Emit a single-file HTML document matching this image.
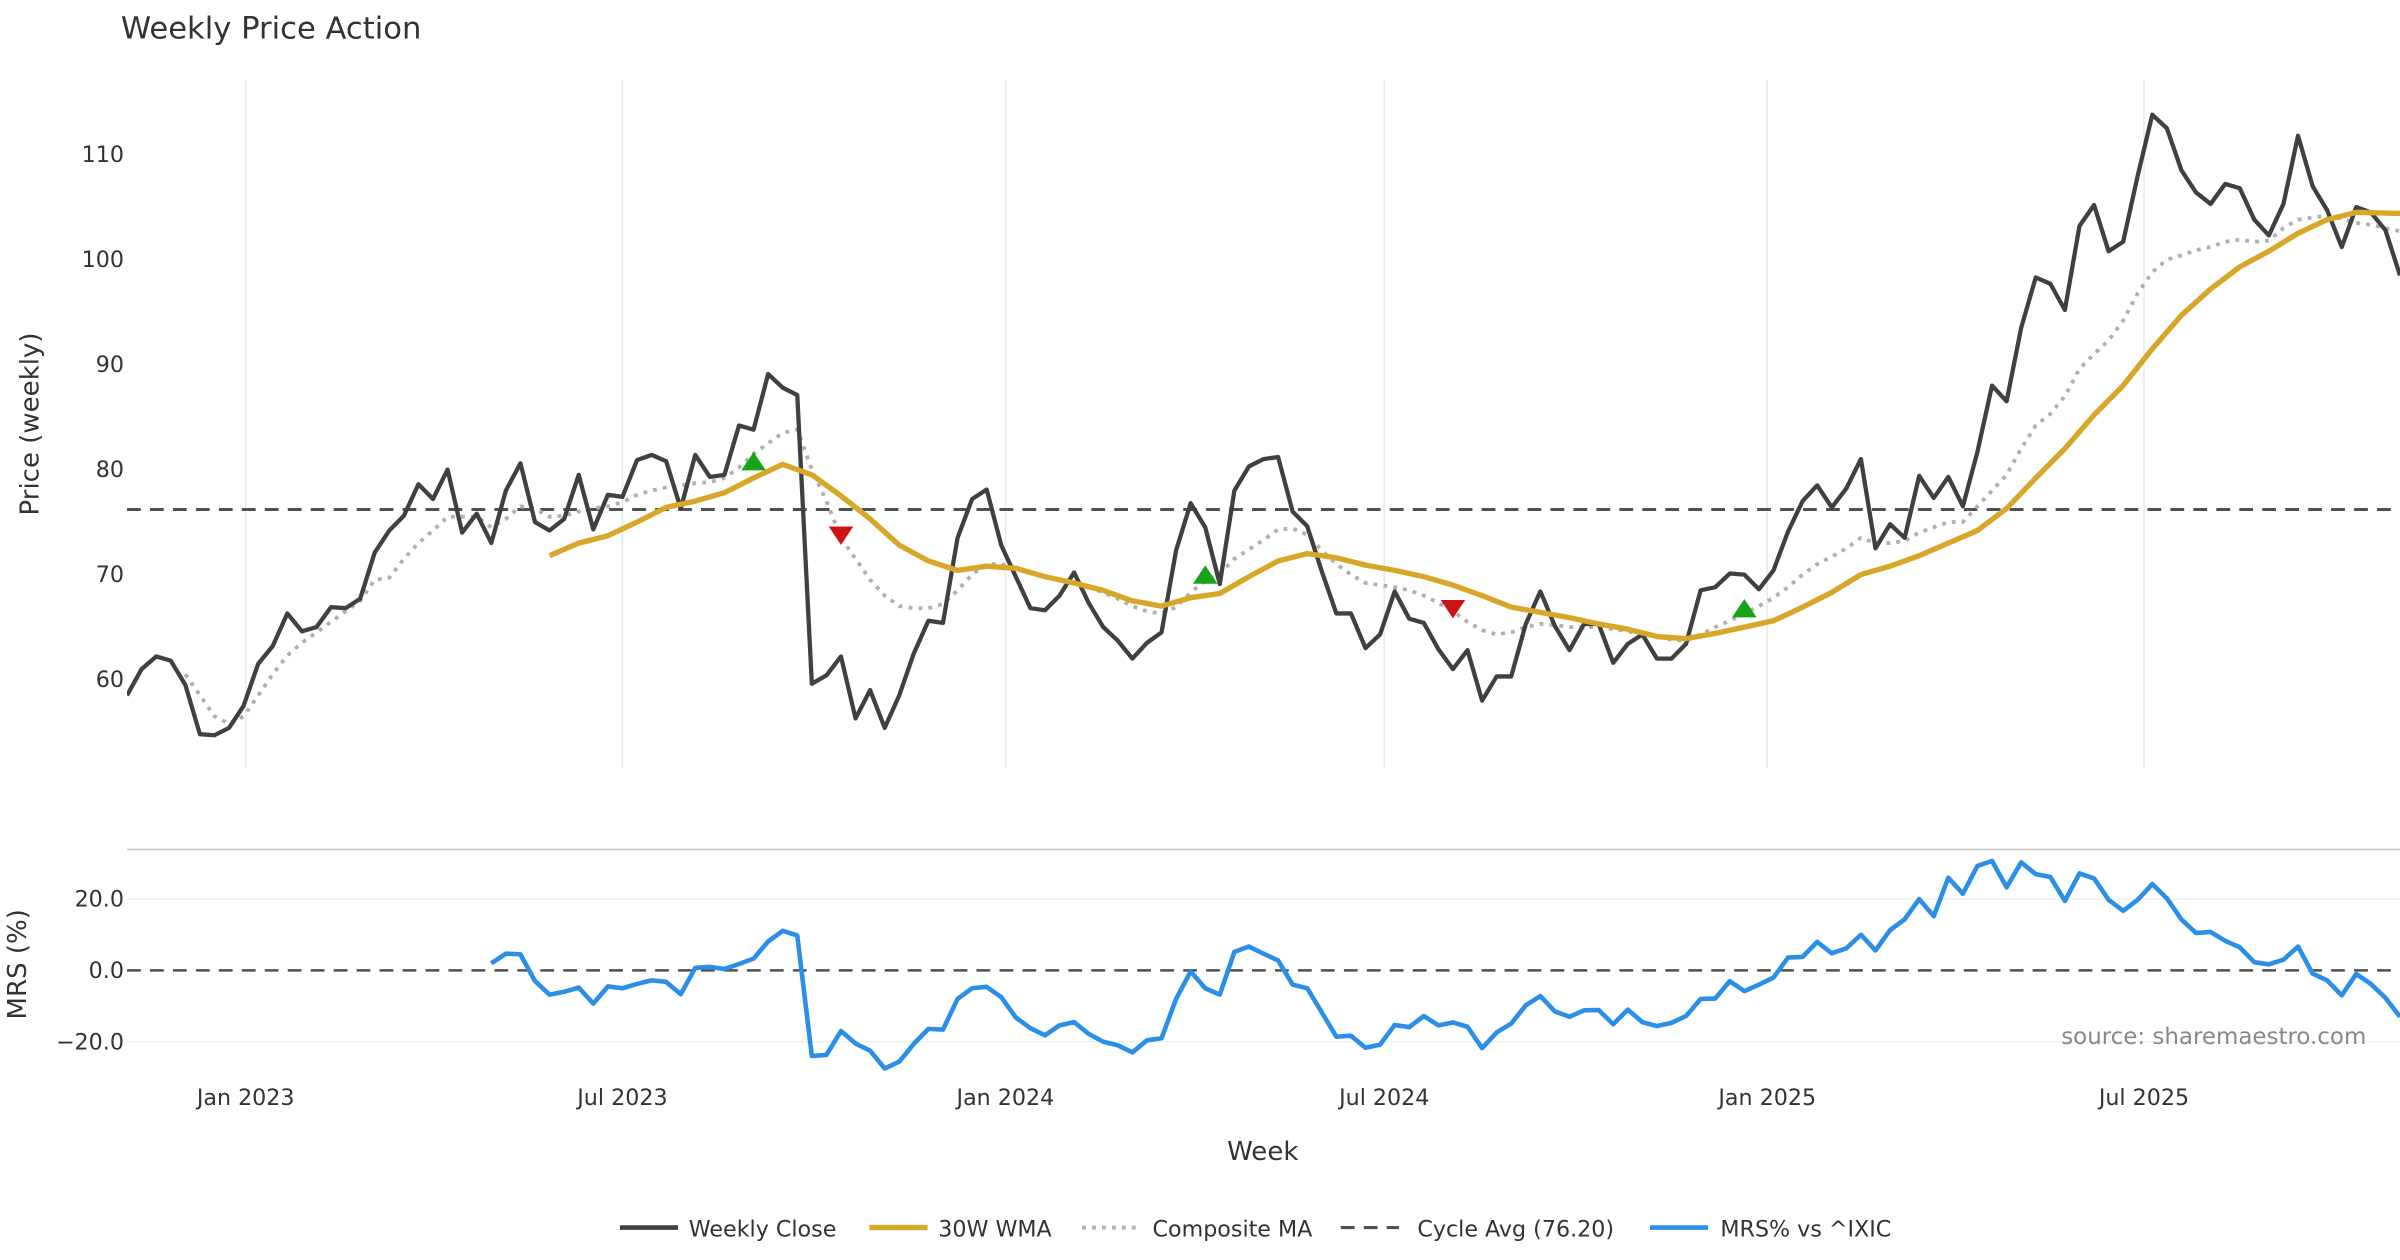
<!DOCTYPE html>
<html><head><meta charset="utf-8"><style>
html,body{margin:0;padding:0;background:#fff;}
svg{display:block;font-family:"DejaVu Sans","Liberation Sans",sans-serif;}
</style></head><body>
<svg id="chart" width="2400" height="1260" viewBox="0 0 1568 823.2" xmlns="http://www.w3.org/2000/svg">
<text x="79" y="25" font-size="20" fill="#333">Weekly Price Action</text>
<g id="price"></g>
<g id="mrs"></g>
<text x="825" y="758" font-size="17" fill="#333" text-anchor="middle">Week</text>
<text transform="translate(25,277) rotate(-90)" font-size="17" fill="#333" text-anchor="middle">Price (weekly)</text>
<text transform="translate(17,630) rotate(-90)" font-size="17" fill="#333" text-anchor="middle">MRS (%)</text>
<text x="1546" y="682" font-size="15" fill="#888" text-anchor="end">source: sharemaestro.com</text>
<g id="legend"></g>
</svg>
<script>
const closeVals=[58.5,61,62.2,61.8,59.5,54.8,54.7,55.4,57.5,61.5,63.2,66.3,64.6,65,66.9,66.8,67.7,72.1,74.2,75.6,78.6,77.2,80,74,75.8,73,78,80.6,75,74.2,75.3,79.5,74.3,77.6,77.4,80.9,81.4,80.8,76.3,81.4,79.3,79.5,84.2,83.8,89.1,87.8,87.1,59.6,60.4,62.2,56.3,59,55.4,58.5,62.5,65.6,65.4,73.5,77.2,78.1,72.8,69.8,66.8,66.6,68,70.2,67.3,65,63.7,62,63.5,64.5,72.3,76.8,74.5,69.1,78,80.3,81,81.2,76,74.6,70.3,66.3,66.3,63,64.3,68.4,65.8,65.4,62.9,61,62.8,58,60.3,60.3,65.3,68.4,65.1,62.8,65.3,65.3,61.6,63.4,64.3,62,62,63.4,68.5,68.8,70.1,70,68.6,70.4,74.1,77,78.5,76.4,78.2,81,72.5,74.8,73.5,79.4,77.3,79.3,76.5,81.7,88,86.5,93.5,98.3,97.7,95.2,103.2,105.2,100.8,101.7,108,113.8,112.5,108.5,106.4,105.3,107.2,106.8,103.8,102.3,105.3,111.8,107,104.7,101.2,105,104.5,102.8,98.5];
const compositeVals=[null,null,null,null,60.5,58.5,56.5,55.8,56.5,58.5,60.5,62.3,63.5,64.5,65.5,66.5,67.5,69.5,69.7,71.5,73,74.2,75.5,75.5,75.5,74.5,75.3,76.5,76.3,75.5,75.6,76,76.3,76.5,76.9,77.6,78,78.3,78.5,78.7,78.8,79.2,80.2,81.5,82.5,83.5,83.8,80,77,73.5,71.5,69.5,68,67,66.8,66.8,67.2,68.5,70,71,71,70.5,70.2,69.8,69.5,69.3,68.8,68.3,67.7,67,66.5,66.3,66.9,68.3,69.4,70.1,71.5,72.4,73.3,74.3,74.4,73.8,72.3,71,70,69.2,69,68.8,68.5,68,67.3,66.5,65.5,64.7,64.3,64.5,65,65.3,65.2,65,65,65,64.8,64.6,64.3,64.1,63.8,63.7,64.3,65,65.6,66.3,67,67.8,68.8,70,71,71.7,72.5,73.5,73,73,73.2,74,74.5,75,75,76.5,78,79.5,82,84.2,85.3,87,89.6,91,92.3,94.2,96.8,98.8,100,100.4,100.9,101.2,101.7,101.9,101.7,101.8,103,103.8,104,104.2,103.9,103.5,103.3,103,102.7];
const wmaWeeks=[29,31,33,35,37,39,41,43,45,47,49,51,53,55,57,59,61,63,65,67,69,71,73,75,77,79,81,83,85,87,89,91,93,95,97,99,101,103,105,107,109,111,113,115,117,119,121,123,125,127,129,131,133,135,137,139,141,143,145,147,149,151,153,156];
const wmaVals=[71.8,73,73.7,75,76.4,77,77.8,79.2,80.5,79.5,77.5,75.3,72.8,71.3,70.4,70.8,70.6,69.8,69.2,68.5,67.5,67,67.8,68.2,69.8,71.3,72,71.6,70.9,70.4,69.8,69,68,66.9,66.4,65.9,65.3,64.8,64.1,63.9,64.4,65,65.6,66.9,68.3,70,70.8,71.8,73,74.2,76.3,79.2,82,85.2,88,91.5,94.7,97.2,99.3,100.8,102.5,103.8,104.5,104.4];
const mrsVals=[null,null,null,null,null,null,null,null,null,null,null,null,null,null,null,null,null,null,null,null,null,null,null,null,null,2,4.7,4.5,-3,-6.8,-6,-4.8,-9.3,-4.5,-5,-3.8,-2.8,-3.2,-6.7,0.7,1,0.4,1.8,3.3,8.1,11.1,9.8,-24,-23.7,-17,-20.5,-22.5,-27.5,-25.6,-20.6,-16.4,-16.6,-8,-5,-4.6,-7.5,-13.2,-16.2,-18.2,-15.4,-14.5,-17.8,-20,-21,-23,-19.6,-19,-8,-0.3,-5,-6.8,5.2,6.7,4.7,2.8,-4,-5,-11.8,-18.6,-18.3,-21.7,-20.8,-15.3,-15.9,-12.8,-15.4,-14.6,-15.8,-21.8,-17.4,-14.9,-9.8,-7.2,-11.5,-13,-11.2,-11.1,-15.1,-11,-14.5,-15.6,-14.7,-12.8,-8,-7.9,-3,-5.8,-4,-2,3.6,3.8,8,4.8,6.2,10,5.6,11.3,14.3,20,15.2,26,21.5,29.3,30.7,23.3,30.3,27,26.2,19.5,27.2,25.8,19.8,16.7,19.8,24.2,20.2,14.3,10.5,10.8,8.3,6.5,2.3,1.7,3,6.7,-0.9,-2.8,-7,-1,-3.8,-7.7,-13];
const signalWeeks=[43,49,74,91,111];
const signalVals=[80.8,73.7,70,66.7,66.8];
const signalTypes=["buy","sell","buy","sell","buy"];
const cycleAvg=76.2;
const priceTicks=[60,70,80,90,100,110];
const mrsTicks=[20,0,-20];
const mrsTickLabels=["20.0","0.0","\u221220.0"];
const dateTickLabels=["Jan 2023","Jul 2023","Jan 2024","Jul 2024","Jan 2025","Jul 2025"];
const dateTickDates=["2023-01-01","2023-07-01","2024-01-01","2024-07-01","2025-01-01","2025-07-01"];
const startDate="2022-11-05";

const NS="http://www.w3.org/2000/svg";
const X0=83,X1=1568,N=closeVals.length;
const x=i=>X0+i*(X1-X0)/(N-1);
const xDate=d=>x((new Date(d)-new Date(startDate))/(7*864e5));
const yP=v=>444-(v-60)*6.86;
const yM=v=>634-v*2.33;
function el(tag,attrs,parent){const e=document.createElementNS(NS,tag);for(const k in attrs)e.setAttribute(k,attrs[k]);parent.appendChild(e);return e;}
function pathFrom(xs,ys){let d="",pen=false;for(let i=0;i<xs.length;i++){if(ys[i]==null){pen=false;continue;}d+=(pen?"L":"M")+xs[i].toFixed(2)+","+ys[i].toFixed(2);pen=true;}return d;}
const price=document.getElementById('price'),mrs=document.getElementById('mrs'),legend=document.getElementById('legend');
const svg=document.getElementById('chart');
const defs=el('defs',{},svg);
const cp=el('clipPath',{id:'clipP'},defs);el('rect',{x:X0,y:45,width:X1-X0,height:460},cp);
const cm=el('clipPath',{id:'clipM'},defs);el('rect',{x:X0,y:556,width:X1-X0,height:150},cm);

dateTickDates.forEach((d,k)=>{
  const gx=xDate(d);
  const g=el('line',{x1:gx,x2:gx,y1:52,y2:502,stroke:'#e6ebf0','stroke-width':1},price);
  
  
  const t=el('text',{x:gx,y:722,'font-size':14.5,fill:'#333','text-anchor':'middle'},svg);
  t.textContent=dateTickLabels[k];
  
  
});
priceTicks.forEach(v=>{
  const t=el('text',{x:81,y:yP(v)+5,'font-size':14.5,fill:'#333','text-anchor':'end'},price);
  t.textContent=v;
  
  
});
const ca=el('line',{x1:X0,x2:X1,y1:yP(cycleAvg),y2:yP(cycleAvg),stroke:'#505050','stroke-width':2,'stroke-dasharray':'9,6'},price);


const xs=closeVals.map((_,i)=>x(i));
const comp=el('path',{d:pathFrom(xs,compositeVals.map(v=>v==null?null:yP(v))),fill:'none',stroke:'#b0b0b0','stroke-width':2.5,'stroke-dasharray':'2.5,4','clip-path':'url(#clipP)'},price);


const cl=el('path',{d:pathFrom(xs,closeVals.map(yP)),fill:'none',stroke:'#404040','stroke-width':2.8,'stroke-linejoin':'round','clip-path':'url(#clipP)'},price);


const wma=el('path',{d:pathFrom(wmaWeeks.map(x),wmaVals.map(yP)),fill:'none',stroke:'#d8a72a','stroke-width':3.5,'stroke-linejoin':'round','clip-path':'url(#clipP)'},price);


signalWeeks.forEach((w,k)=>{
  const cx=x(w),cy=yP(signalVals[k]);
  const pts=signalTypes[k]==='buy'?`${cx-8},${cy+6} ${cx+8},${cy+6} ${cx},${cy-6}`:`${cx-8},${cy-6} ${cx+8},${cy-6} ${cx},${cy+6}`;
  const m=el('polygon',{points:pts,fill:signalTypes[k]==='buy'?'#17a317':'#cc1414'},price);
  
  
});
const sep=el('line',{x1:X0,x2:X1,y1:555,y2:555,stroke:'#cccccc','stroke-width':1.2},mrs);


mrsTicks.forEach((v,k)=>{
  if(v!==0){const gl=el('line',{x1:X0,x2:X1,y1:yM(v),y2:yM(v),stroke:'#eef1f5','stroke-width':1},mrs);
  
  }
  const t=el('text',{x:81,y:yM(v)+5,'font-size':14.5,fill:'#333','text-anchor':'end'},mrs);
  t.textContent=mrsTickLabels[k];
  
  
});
const z=el('line',{x1:X0,x2:X1,y1:yM(0),y2:yM(0),stroke:'#505050','stroke-width':1.6,'stroke-dasharray':'9,6'},mrs);


const ml=el('path',{d:pathFrom(xs,mrsVals.map(v=>v==null?null:yM(v))),fill:'none',stroke:'#2b8fe8','stroke-width':3,'stroke-linejoin':'round','clip-path':'url(#clipM)'},mrs);


const legItems=[["Weekly Close",405,450,{stroke:'#404040','stroke-width':3}],["30W WMA",568,613,{stroke:'#d8a72a','stroke-width':3.5}],["Composite MA",707,753,{stroke:'#b0b0b0','stroke-width':2.5,'stroke-dasharray':'2.5,4'}],["Cycle Avg (76.20)",876,926,{stroke:'#505050','stroke-width':2,'stroke-dasharray':'9,6'}],["MRS% vs ^IXIC",1078,1124,{stroke:'#2b8fe8','stroke-width':3}]];
legItems.forEach(it=>{
  const g=el('g',{},legend);
  
  
  el('line',Object.assign({x1:it[1],x2:it[1]+38,y1:802,y2:802},it[3]),g);
  const t=el('text',{x:it[2],y:808,'font-size':14.5,fill:'#333'},g);
  t.textContent=it[0];
});
</script>
</body></html>
